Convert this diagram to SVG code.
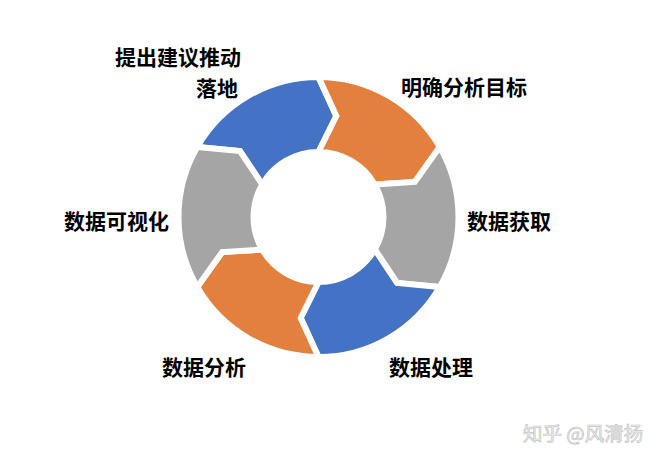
<svg xmlns="http://www.w3.org/2000/svg" width="663" height="462" viewBox="0 0 663 462">
  <style>
    .seg { stroke: #ffffff; stroke-width: 6; stroke-linejoin: miter; }
    .blue { fill: #4472C4; }
    .orange { fill: #E3803D; }
    .gray { fill: #A5A5A5; }
    .lbl { font-family: "Noto Sans CJK SC", "Microsoft YaHei", sans-serif; font-weight: bold; font-size: 21px; fill: #000000; }
    .wm { font-family: "Noto Sans CJK SC", sans-serif; font-size: 19.5px; fill: #f3f3f3; stroke: #c4c4c4; stroke-width: 0.7; }
  </style>
  <rect width="663" height="462" fill="#ffffff"/>
  <g id="connectors"></g>
  <g id="node-proposal">
    <path class="seg blue" d="M197.26,147 A140,140 0 0 1 318.5,77 L336.30,116.06 L318.5,152 A65,65 0 0 0 262.21,184.5 L239.98,151.11 Z"/>
    <text class="lbl" x="115" y="65">提出建议推动</text>
    <text class="lbl" x="238" y="96" text-anchor="end">落地</text>
  </g>
  <g id="node-goal">
    <path class="seg orange" d="M318.5,77 A140,140 0 0 1 439.74,147 L414.82,181.94 L374.79,184.5 A65,65 0 0 0 318.5,152 L336.30,116.06 Z"/>
    <text class="lbl" x="401" y="95">明确分析目标</text>
  </g>
  <g id="node-acquire">
    <path class="seg gray" d="M439.74,147 A140,140 0 0 1 439.74,287 L397.02,282.89 L374.79,249.5 A65,65 0 0 0 374.79,184.5 L414.82,181.94 Z"/>
    <text class="lbl" x="467" y="229">数据获取</text>
  </g>
  <g id="node-process">
    <path class="seg blue" d="M439.74,287 A140,140 0 0 1 318.5,357 L300.70,317.94 L318.5,282 A65,65 0 0 0 374.79,249.5 L397.02,282.89 Z"/>
    <text class="lbl" x="389" y="375">数据处理</text>
  </g>
  <g id="node-analysis">
    <path class="seg orange" d="M318.5,357 A140,140 0 0 1 197.26,287 L222.18,252.06 L262.21,249.5 A65,65 0 0 0 318.5,282 L300.70,317.94 Z"/>
    <text class="lbl" x="162" y="375">数据分析</text>
  </g>
  <g id="node-visual">
    <path class="seg gray" d="M197.26,287 A140,140 0 0 1 197.26,147 L239.98,151.11 L262.21,184.5 A65,65 0 0 0 262.21,249.5 L222.18,252.06 Z"/>
    <text class="lbl" x="64" y="229">数据可视化</text>
  </g>
  <text class="wm" x="523" y="441">知乎 @风清扬</text>
</svg>
